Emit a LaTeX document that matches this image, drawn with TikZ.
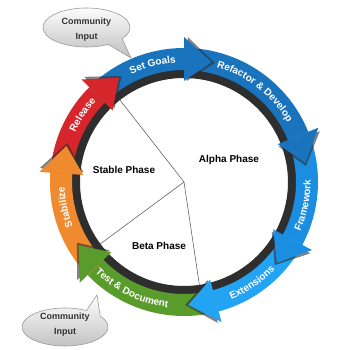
\documentclass[tikz,border=0pt]{standalone}
\usepackage{fontspec}
\setmainfont{Liberation Sans}
\usetikzlibrary{positioning,calc,decorations.text}
\definecolor{goalblue}{HTML}{1A74BD}
\definecolor{frameblue}{HTML}{1C8EE2}
\definecolor{extblue}{HTML}{23A3F3}
\definecolor{testgreen}{HTML}{5A9C2B}
\definecolor{stableorange}{HTML}{EF8A2F}
\definecolor{releasered}{HTML}{D7262B}
\definecolor{ringshadow}{HTML}{2E2E2E}
\definecolor{bubbleline}{HTML}{9A9A9A}
\newcommand{\ringfont}{\fontsize{10}{12}\selectfont\bfseries}
\tikzset{
  phaseline/.style={draw=black!70,line width=0.5pt},
  phaselabel/.style={font=\fontsize{10}{12}\selectfont\bfseries},
  bubble/.style={draw=bubbleline,line width=0.6pt,top color=white,bottom color=black!25},
  bubbletext/.style={text=black!80,align=center,font=\fontsize{9}{14.5}\selectfont\bfseries},
  ringtext/.style={decorate,decoration={text along path,text color=white,text align=center,text={|\ringfont|#1}}}
}

\begin{document}
\begin{tikzpicture}[x=1pt,y=1pt]
    \useasboundingbox (-184,-168) rectangle (166,182);
    \coordinate (hub) at (0,0);
    % shadow ring under the arrows
    \fill[ringshadow,even odd rule] (0,0) circle (113) (0,0) circle (104);
    % bands
    \foreach \start/\base/\col in {135/90/goalblue,90/22/goalblue,22/-28/frameblue,-28/-75/extblue,
        -75/-136/testgreen,-136/-184/stableorange,-184/-225/releasered} {
      \fill[\col] (\start:112) arc[start angle=\start,end angle=\base,radius=112]
        -- (\base:134) arc[start angle=\base,end angle=\start,radius=134] -- cycle;
    }
    % heads
    \foreach \base/\tip/\col in {90/77/goalblue,22/9/goalblue,-28/-41/frameblue,-75/-88/extblue,
        -136/-149/testgreen,-184/-197/stableorange,-225/-238/releasered} {
      \fill[ringshadow,opacity=.6,rotate=-1.5] (\base:101) -- (\tip:123) -- (\base:145) -- cycle;
      \fill[\col] (\base:101) -- (\tip:123) -- (\base:145) -- cycle;
    }
    % labels on the ring
    \path[ringtext=Set Goals] (150:119.5) arc[start angle=150,end angle=60,radius=119.5];
    \path[ringtext=Refactor {\&} Develop] (100:119.5) arc[start angle=100,end angle=4,radius=119.5];
    \path[ringtext=Release] (191.5:119.5) arc[start angle=191.5,end angle=101.5,radius=119.5];
    \path[ringtext=Stabilize] (237:119.5) arc[start angle=237,end angle=147,radius=119.5];
    \path[ringtext=Framework] (-56:126.5) arc[start angle=-56,end angle=34,radius=126.5];
    \path[ringtext=Extensions] (-101:126.5) arc[start angle=-101,end angle=-11,radius=126.5];
    \path[ringtext=Test {\&} Document] (199:126.5) arc[start angle=199,end angle=289,radius=126.5];
    % phases
    \coordinate (stableend) at (128:105);
    \coordinate (betaend) at (216.5:105);
    \coordinate (alphaend) at (278.5:105);
    \draw[phaseline] (stableend) -- (hub) -- (alphaend);
    \draw[phaseline] (hub) -- (betaend);
    \node[phaselabel] (stable) at (-60,12) {Stable Phase};
    \node[phaselabel] (alpha) at (45,22) {Alpha Phase};
    \node[phaselabel] (beta) at (-25,-64) {Beta Phase};
    % community callouts
    \path[bubble] (-97.5,154.5) ++(-35:43.5 and 19.5)
      arc[start angle=-35,end angle=300,x radius=43.5,y radius=19.5] -- (-53,124) -- cycle;
    \node[bubbletext] (topinput) at (-97.5,152.5) {Community\\Input};
    \path[bubble] (-119,-145) ++(60:43 and 19)
      arc[start angle=60,end angle=395,x radius=43,y radius=19] -- (-87,-113) -- cycle;
    \node[bubbletext] (bottominput) at (-119,-142.5) {Community\\Input};
  \end{tikzpicture}
\end{document}
